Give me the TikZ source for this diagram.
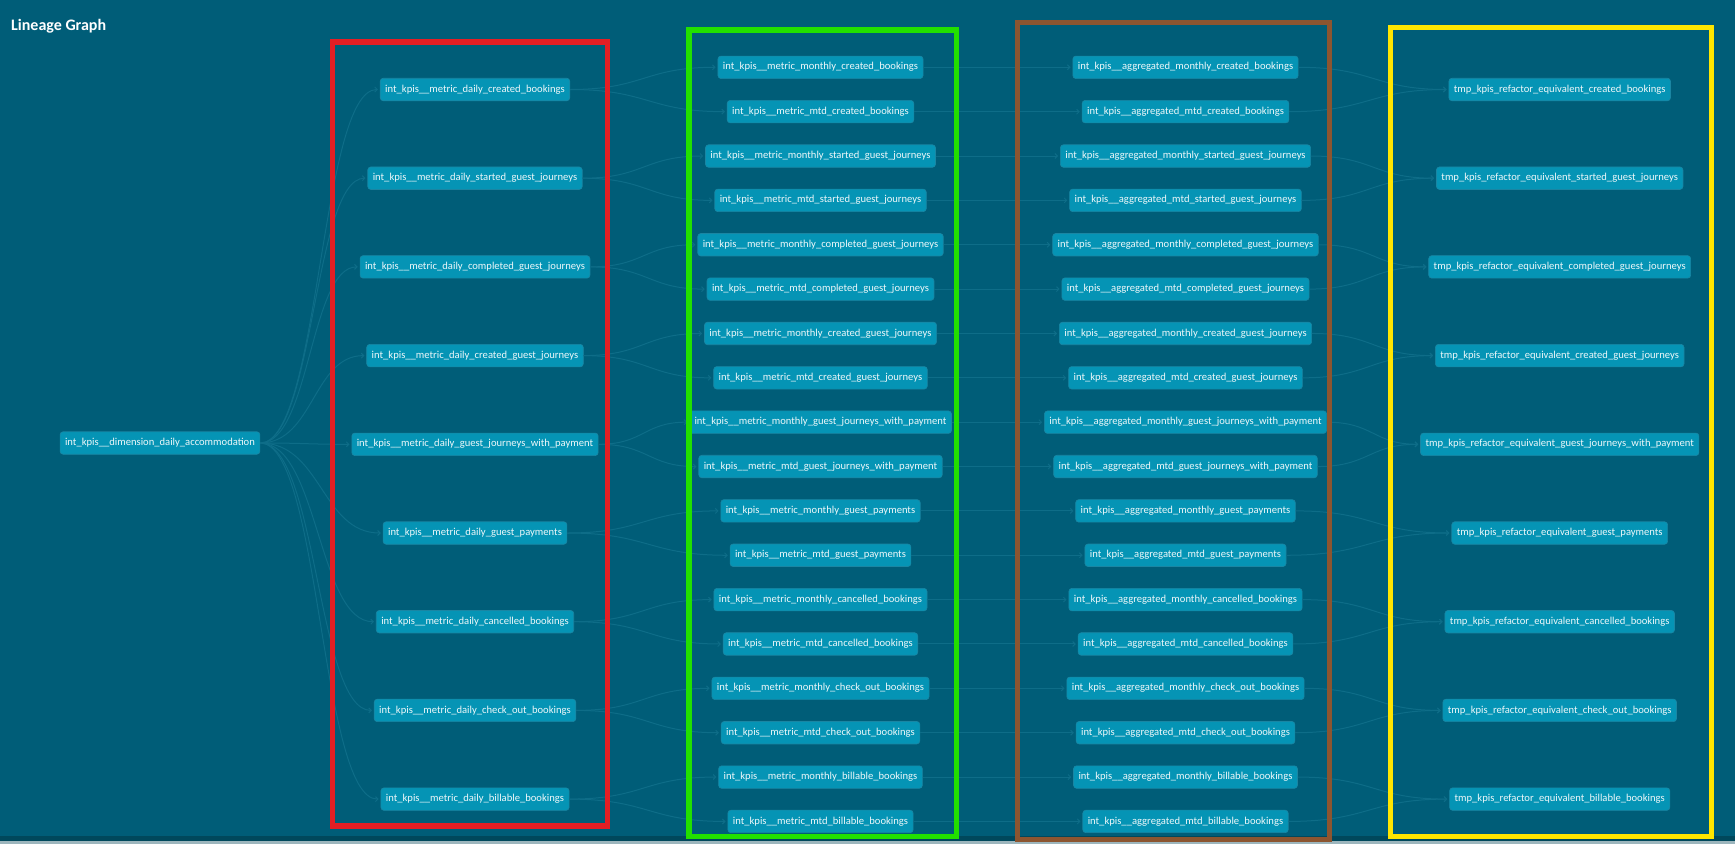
\documentclass[tikz,border=0pt]{standalone}
\usepackage{fontspec}
\setmainfont{Carlito}
\usetikzlibrary{arrows.meta,calc}
\definecolor{bg}{HTML}{005D78}
\definecolor{stripd}{HTML}{00485C}
\definecolor{stripl}{HTML}{9DB6BD}
\definecolor{nodec}{HTML}{0594B5}
\definecolor{nodeb}{HTML}{1A86A3}
\definecolor{txt}{HTML}{EEF8FA}
\definecolor{edgec}{HTML}{0E6D88}
\definecolor{boxred}{HTML}{E31E24}
\definecolor{boxgreen}{HTML}{22E000}
\definecolor{boxbrown}{HTML}{8C5530}
\definecolor{boxyellow}{HTML}{FFE600}
\tikzset{
  tbl/.style={fill=nodec, draw=nodeb, line width=0.6pt, rounded corners=3pt,
    text=txt, font=\fontsize{10.6}{12}\selectfont, inner xsep=5pt, inner ysep=0pt,
    minimum height=22.5pt, text height=7.5pt, text depth=2.3pt},
  link/.style={to path={let \p1=(\tikztostart), \p2=(\tikztotarget), \n1={0.5*(\x2-\x1)} in
    .. controls +(\n1,0) and +(-\n1,0) .. (\tikztotarget) \tikztonodes}},
  edge/.style={draw=edgec, line width=1pt, shorten >=2pt,
    -{Straight Barb[length=2.5pt,width=5pt]}},
  annot/.style={line width=5.3pt}
}
\begin{document}
\begin{tikzpicture}[x=1pt,y=-1pt]
\fill[bg] (0,0) rectangle (1735,844);
\useasboundingbox (0,0) rectangle (1735,844);
\fill[stripd] (0,836) rectangle (1735,841);
\fill[stripl] (0,841) rectangle (1735,844);
\node[anchor=base west, font=\bfseries\fontsize{16}{18}\selectfont, text=white, inner sep=0pt] (title) at (11,30) {Lineage Graph};
\node[tbl] (src) at (160,443) {int\_kpis\_\_dimension\_daily\_accommodation};
\foreach \n [count=\i from 0] in {created\_bookings, started\_guest\_journeys, completed\_guest\_journeys, created\_guest\_journeys, guest\_journeys\_with\_payment, guest\_payments, cancelled\_bookings, check\_out\_bookings, billable\_bookings}{
  \pgfmathsetmacro\ya{89.5+88.7*\i}
  \pgfmathsetmacro\yg{67.3+88.72*\i}
  \pgfmathsetmacro\yh{\yg+44.36}
  \node[tbl] (d\i) at (475,\ya) {int\_kpis\_\_metric\_daily\_\n};
  \node[tbl] (gm\i) at (820.5,\yg) {int\_kpis\_\_metric\_monthly\_\n};
  \node[tbl] (gt\i) at (820.5,\yh) {int\_kpis\_\_metric\_mtd\_\n};
  \node[tbl] (bm\i) at (1185.5,\yg) {int\_kpis\_\_aggregated\_monthly\_\n};
  \node[tbl] (bt\i) at (1185.5,\yh) {int\_kpis\_\_aggregated\_mtd\_\n};
  \node[tbl] (y\i) at (1559.7,\ya) {tmp\_kpis\_refactor\_equivalent\_\n};
  \draw[edge] (src.east) to[link] (d\i.west);
  \draw[edge] (d\i.east) to[link] (gm\i.west);
  \draw[edge] (d\i.east) to[link] (gt\i.west);
  \draw[edge] (gm\i.east) -- (bm\i.west);
  \draw[edge] (gt\i.east) -- (bt\i.west);
  \draw[edge] (bm\i.east) to[link] (y\i.west);
  \draw[edge] (bt\i.east) to[link] (y\i.west);
}
\draw[annot, draw=boxred, line width=5.5pt] (332.5,42) rectangle (607.5,826);
\draw[annot, draw=boxgreen, line width=5.5pt] (689,30) rectangle (956.7,836.5);
\draw[annot, draw=boxbrown, line width=5pt] (1017.5,22) rectangle (1329.8,839.5);
\draw[annot, draw=boxyellow, line width=5pt] (1390,27) rectangle (1711.8,836.8);
\end{tikzpicture}
\end{document}
